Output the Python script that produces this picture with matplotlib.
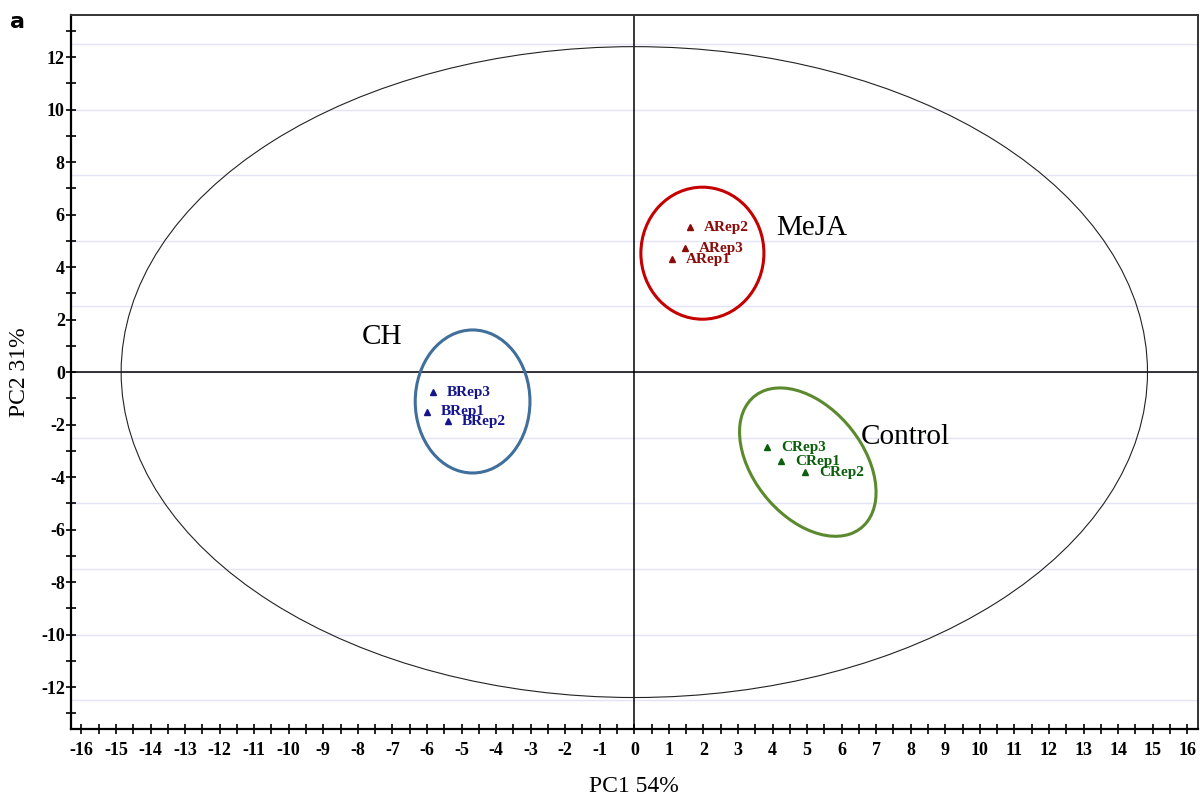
import matplotlib
matplotlib.use("Agg")
from matplotlib import pyplot as plt
from matplotlib.patches import Ellipse
from matplotlib.ticker import MultipleLocator
import numpy as np

plt.rcParams["axes.unicode_minus"] = False

# sample scores (PC1, PC2)
samples = ["ARep1", "ARep2", "ARep3", "BRep1", "BRep2", "BRep3", "CRep1", "CRep2", "CRep3"]
pc1 = [1.10, 1.62, 1.47, -6.01, -5.40, -5.84, 4.25, 4.94, 3.84]
pc2 = [4.30, 5.52, 4.72, -1.52, -1.87, -0.76, -3.39, -3.81, -2.86]
groups = ["A", "A", "A", "B", "B", "B", "C", "C", "C"]

group_names = ["MeJA", "CH", "Control"]
group_keys = ["A", "B", "C"]
point_colors = {"A": "#8b0a0a", "B": "#14148c", "C": "#0b5e0b"}
ring_colors = {"A": "#c40000", "B": "#3f6f9a", "C": "#5b8a2e"}

# confidence ellipses: centre x, centre y, width, height, angle
ring_cx = [1.97, -4.68, 5.02]
ring_cy = [4.53, -1.12, -3.43]
ring_w = [3.56, 3.32, 3.4]
ring_h = [5.03, 5.45, 6.0]
ring_ang = [0, 0, 24]

# Hotelling T2 ellipse
t2_w, t2_h = 29.7, 24.8

serif = "Liberation Serif"

fig = plt.figure(figsize=(12, 7.97), dpi=100)
ax = fig.add_axes([0.0592, 0.0853, 0.9388, 0.8957])

ax.set_xlim(-16.3, 16.3)
ax.set_ylim(-13.6, 13.6)

# faint horizontal grid
for gy in np.arange(-12.5, 12.6, 2.5):
    ax.axhline(gy, color="#e4e4f8", lw=1, zorder=0)
ax.axhline(0, color="black", lw=1.1, zorder=1)
ax.axvline(0, color="black", lw=1.1, zorder=1)

ax.add_patch(Ellipse((0, 0), t2_w, t2_h, fill=False, ec="#222222", lw=0.8))

for k, cx, cy, w, h, a in zip(group_keys, ring_cx, ring_cy, ring_w, ring_h, ring_ang):
    ax.add_patch(Ellipse((cx, cy), w, h, angle=a, fill=False, ec=ring_colors[k], lw=2.2))

for s, x, y, g in zip(samples, pc1, pc2, groups):
    ax.plot(x, y, marker="^", ms=4.5, color=point_colors[g], ls="none")
    ax.annotate(s, (x, y), xytext=(10, 0), textcoords="offset points",
                fontsize=11, fontweight="bold", family=serif,
                color=point_colors[g], va="center", ha="left")

ax.text(4.1, 5.5, "MeJA", fontsize=21, family=serif, va="center", ha="left")
ax.text(-7.9, 1.35, "CH", fontsize=21, family=serif, va="center", ha="left")
ax.text(6.55, -2.48, "Control", fontsize=21, family=serif, va="center", ha="left")

ax.xaxis.set_minor_locator(MultipleLocator(0.5))
ax.yaxis.set_minor_locator(MultipleLocator(1))
ax.set_xticks(np.arange(-16, 17, 1))
ax.set_yticks(np.arange(-12, 13, 2))
ax.tick_params(which="both", direction="inout", length=7, width=1.2, color="black")
ax.tick_params(axis="x", which="major", pad=6)
ax.tick_params(axis="y", which="major", pad=1)
for lab in ax.get_xticklabels() + ax.get_yticklabels():
    lab.set_family(serif)
    lab.set_fontweight("bold")
    lab.set_fontsize(13)

for side in ["left", "bottom"]:
    ax.spines[side].set_linewidth(1.6)
    ax.spines[side].set_color("black")
for side in ["top", "right"]:
    ax.spines[side].set_linewidth(1.4)
    ax.spines[side].set_color("#333333")

ax.set_xlabel("PC1 54%", fontsize=17, family=serif, labelpad=12)
ax.set_ylabel("PC2 31%", fontsize=17, family=serif, labelpad=8)

fig.text(0.008, 0.965, "a", fontsize=16, fontweight="bold", family="DejaVu Sans")

fig.savefig("out.png", dpi=100)
